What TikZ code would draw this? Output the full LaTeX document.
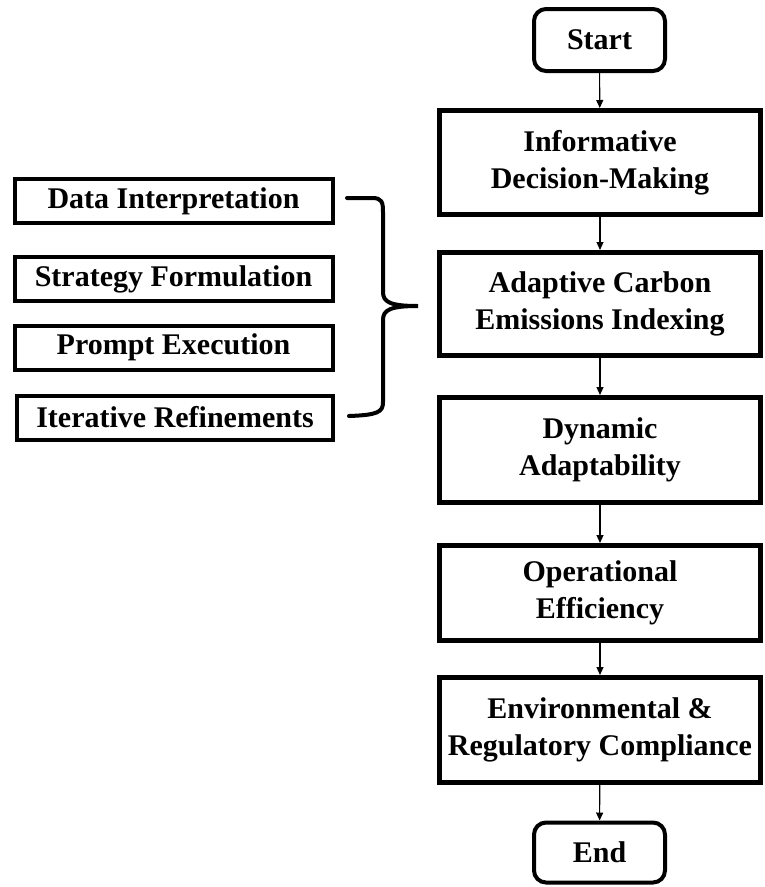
\documentclass[tikz,border=0pt]{standalone}
\usepackage{fontspec}
\setmainfont{Liberation Serif}
\usetikzlibrary{arrows.meta}
\begin{document}
\begin{tikzpicture}[x=1pt,y=-1pt,
  txt/.style={font=\bfseries\fontsize{30}{37}\selectfont, align=center, inner sep=0pt},
  mainbox/.style={txt, draw, line width=5pt, minimum width=321pt},
  termbox/.style={txt, draw, line width=4pt, rounded corners=12pt, minimum width=131pt},
  sidebox/.style={txt, draw, line width=4pt, minimum width=318pt, minimum height=44pt},
  flow/.style={line width=1.1pt, -{Triangle[width=7pt,length=8pt]}},
  brace/.style={line width=4pt, line cap=round}
]
\useasboundingbox (0,0) rectangle (765,887);

% main column
\node[termbox, minimum height=62pt] (start) at (599.5,40) {Start};
\node[mainbox, minimum height=104pt] (info) at (600,162.5) {Informative\\Decision-Making};
\node[mainbox, minimum height=103pt] (acei) at (600,304) {Adaptive Carbon\\Emissions Indexing};
\node[mainbox, minimum height=105pt] (dyn) at (600,450) {Dynamic\\Adaptability};
\node[mainbox, minimum height=95pt] (oper) at (600,593) {Operational\\Efficiency};
\node[mainbox, minimum height=105pt] (env) at (600,730) {Environmental \&\\Regulatory Compliance};
\node[termbox, minimum height=60pt] (end) at (599.5,852.5) {End};

\draw[flow] (start) -- (info);
\draw[flow] (info) -- (acei);
\draw[flow] (acei) -- (dyn);
\draw[flow] (dyn) -- (oper);
\draw[flow] (oper) -- (env);
\draw[flow] (env) -- (end);

% side activities
\node[sidebox] (data) at (173.5,201) {Data Interpretation};
\node[sidebox] (strat) at (173.5,279) {Strategy Formulation};
\node[sidebox] (prompt) at (173.5,347.5) {Prompt Execution};
\node[sidebox, minimum width=316pt] (iter) at (175,417.5) {Iterative Refinements};

% curly brace grouping the side activities
\coordinate (btop) at (347,198);
\coordinate (bbot) at (349,416);
\coordinate (btip) at (418,306);
\draw[brace] (btop) -- (372,198) .. controls (382,198) and (383,202) .. (383,212)
  -- (383,292) .. controls (383,302) and (390,306) .. (btip)
  .. controls (390,306) and (383,310) .. (383,320)
  -- (383,402) .. controls (383,412) and (378,415) .. (bbot);
\end{tikzpicture}
\end{document}
